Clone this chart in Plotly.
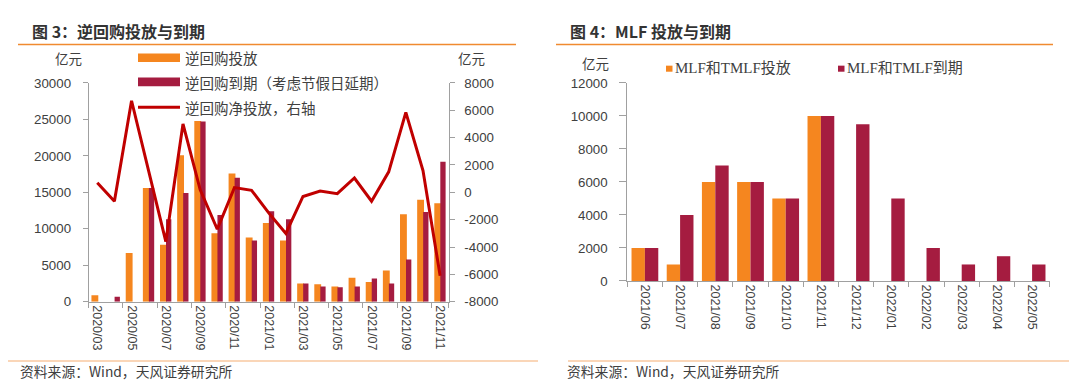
import plotly.graph_objects as go

# ---------------- data ----------------
rr_months = ["2020/03", "2020/04", "2020/05", "2020/06", "2020/07", "2020/08", "2020/09",
             "2020/10", "2020/11", "2020/12", "2021/01", "2021/02", "2021/03", "2021/04",
             "2021/05", "2021/06", "2021/07", "2021/08", "2021/09", "2021/10", "2021/11"]
rr_injection = [900, 0, 6700, 15600, 7800, 20100, 24800, 9400, 17600, 8800, 10800, 8400,
                2500, 2400, 2100, 3300, 2700, 4300, 12000, 14000, 13500]
rr_maturity = [0, 700, 0, 15600, 11300, 14900, 24700, 11900, 17000, 8400, 12400, 11300,
               2500, 2100, 2000, 2100, 3200, 2500, 5800, 12300, 19200]
rr_net = [700, -650, 6700, 1650, -3600, 5000, 200, -2700, 350, 150, -1500, -3000,
          -300, 100, -100, 1050, -650, 1500, 5850, 1600, -6100]

mlf_months = ["2021/06", "2021/07", "2021/08", "2021/09", "2021/10", "2021/11", "2021/12",
              "2022/01", "2022/02", "2022/03", "2022/04", "2022/05"]
mlf_injection = [2000, 1000, 6000, 6000, 5000, 10000, 0, 0, 0, 0, 0, 0]
mlf_maturity = [2000, 4000, 7000, 6000, 5000, 10000, 9500, 5000, 2000, 1000, 1500, 1000]

# tick labels
left_ticks = [0, 5000, 10000, 15000, 20000, 25000, 30000]
right_ticks = [-8000, -6000, -4000, -2000, 0, 2000, 4000, 6000, 8000]
mlf_ticks = [0, 2000, 4000, 6000, 8000, 10000, 12000]

# ---------------- styles ----------------
ORANGE = "#F5861F"
CRIMSON = "#A51C40"
RED = "#C00000"
AXIS = "#A0A0A0"
TXT = "#404040"
CJK = "Noto Sans CJK SC"
NUM = "Liberation Sans, Noto Sans CJK SC"
W, H = 1080, 387


def px(x):
    return x / W


def py(y):
    return 1 - y / H


fig = go.Figure()

# left chart
fig.add_trace(go.Bar(x=rr_months, y=rr_injection, marker_color=ORANGE, marker_line_width=0,
                     offset=-0.34, width=0.40, xaxis="x", yaxis="y", name="逆回购投放"))
fig.add_trace(go.Bar(x=rr_months, y=rr_maturity, marker_color=CRIMSON, marker_line_width=0,
                     offset=0.01, width=0.31, xaxis="x", yaxis="y", name="逆回购到期（考虑节假日延期）"))
fig.add_trace(go.Scatter(x=rr_months, y=rr_net, mode="lines", line=dict(color=RED, width=3),
                         xaxis="x", yaxis="y2", name="逆回购净投放，右轴"))

# right chart
fig.add_trace(go.Bar(x=mlf_months, y=mlf_injection, marker_color=ORANGE, marker_line_width=0,
                     offset=-0.38, width=0.38, xaxis="x2", yaxis="y3", name="MLF和TMLF投放"))
fig.add_trace(go.Bar(x=mlf_months, y=mlf_maturity, marker_color=CRIMSON, marker_line_width=0,
                     offset=0.0, width=0.38, xaxis="x2", yaxis="y3", name="MLF和TMLF到期"))

xtickfont = dict(family=NUM, size=12.5, color=TXT)
ytickfont = dict(family=NUM, size=13.3, color=TXT)
common_y = dict(showgrid=False, zeroline=False, showline=True, linecolor=AXIS, linewidth=1,
                ticks="outside", tickcolor=AXIS, tickfont=ytickfont, fixedrange=True,
                tickmode="array")
common_x = dict(type="category", showgrid=False, zeroline=False, showline=True, linecolor=AXIS,
                linewidth=1, ticks="outside", ticklen=5, tickcolor=AXIS, tickson="boundaries",
                tickangle=90, tickfont=xtickfont)

fig.update_layout(
    width=W, height=H, margin=dict(l=0, r=0, t=0, b=0),
    paper_bgcolor="white", plot_bgcolor="white", barmode="overlay", showlegend=False,
    xaxis=dict(domain=[px(80.7), px(440.7)], anchor="y", tickmode="array",
               tickvals=rr_months[::2], ticktext=rr_months[::2], **common_x),
    yaxis=dict(domain=[py(298.3), py(70.7)], anchor="x", range=[0, 30000],
               tickvals=left_ticks, ticktext=[str(v) for v in left_ticks],
               ticklen=5, ticklabelstandoff=9, **common_y),
    yaxis2=dict(overlaying="y", side="right", anchor="x", range=[-8000, 8000],
                tickvals=right_ticks, ticktext=[str(v) for v in right_ticks],
                ticklen=5, ticklabelstandoff=7, **common_y),
    xaxis2=dict(domain=[px(619.3), px(1041.7)], anchor="y3", **common_x),
    yaxis3=dict(domain=[py(276.7), py(70.7)], anchor="x2", range=[0, 12000],
                tickvals=mlf_ticks, ticktext=[str(v) for v in mlf_ticks],
                ticklen=7, ticklabelstandoff=9, **common_y),
)

ann = []
shapes = []


def text(x, y, s, size=13, xanchor="left", family=CJK, color=TXT):
    ann.append(dict(x=px(x), y=py(y), xref="paper", yref="paper", text=s, showarrow=False,
                    xanchor=xanchor, yanchor="middle", font=dict(family=family, size=size, color=color)))


def hline(x0, x1, y, color, width):
    shapes.append(dict(type="line", xref="paper", yref="paper", x0=px(x0), x1=px(x1),
                       y0=py(y), y1=py(y), line=dict(color=color, width=width)))


def rect(x0, y0, x1, y1, color):
    shapes.append(dict(type="rect", xref="paper", yref="paper", x0=px(x0), x1=px(x1),
                       y0=py(y1), y1=py(y0), fillcolor=color, line=dict(width=0)))


# titles
text(22, 17, "<b>图 3：逆回购投放与到期</b>", size=16, color="#333333")
text(560, 17, "<b>图 4：MLF 投放与到期</b>", size=16, color="#333333")
hline(10, 508, 30.7, "#F08A30", 1.5)
hline(548, 1045, 30.7, "#F08A30", 1.5)

# sources
hline(0, 530, 360, "#F8C8A0", 1.5)
hline(560, 1061, 360, "#F8C8A0", 1.5)
text(10, 370, "资料来源：Wind，天风证券研究所", size=13.8)
text(557, 370, "资料来源：Wind，天风证券研究所", size=13.8)

# units
text(60, 45, "亿元", size=13.5, xanchor="center")
text(463, 45, "亿元", size=13.5, xanchor="center")
text(587, 50, "亿元", size=13.5, xanchor="center")

# left legend
rect(130, 40, 172, 49, ORANGE)
text(175, 44, "逆回购投放", size=14.5)
rect(130, 65, 172, 74, CRIMSON)
text(175, 70, "逆回购到期（考虑节假日延期）", size=14.5)
hline(130, 172, 96, RED, 3)
text(175, 96, "逆回购净投放，右轴", size=14.5)

# right legend
rect(658, 52.7, 664.5, 59, ORANGE)
text(665, 55.5, "MLF和TMLF投放", size=15, family="Liberation Serif, Noto Sans CJK SC")
rect(830, 52.7, 836.5, 59, CRIMSON)
text(837, 55.5, "MLF和TMLF到期", size=15, family="Liberation Serif, Noto Sans CJK SC")

fig.update_layout(annotations=ann, shapes=shapes)

fig.write_html("out.html")
